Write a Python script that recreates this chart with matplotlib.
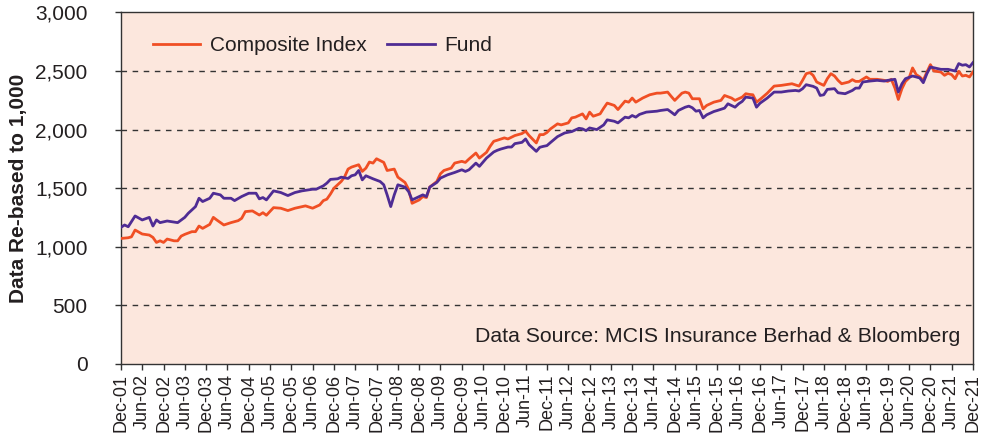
import matplotlib
matplotlib.use("Agg")
import matplotlib.pyplot as plt
import pandas as pd

# Month offsets from Dec-2001
fund_months = [0, 1, 2, 4, 6, 8, 9, 10, 11, 13, 16, 18, 19, 21, 22, 23, 25, 26, 28, 29,
               31, 32, 34, 36, 38, 39, 40, 41, 43, 45, 47, 49, 51, 54, 55, 57, 58, 59, 61, 62,
               64, 65, 66, 67, 68, 69, 71, 73, 74, 75, 76, 77, 78, 80, 81, 82, 84, 85, 86, 87,
               89, 90, 92, 94, 96, 97, 98, 100, 101, 103, 105, 106, 107, 109, 110, 111, 113, 114, 115, 117,
               118, 119, 120, 121, 123, 125, 127, 129, 130, 131, 132, 134, 136, 137, 139, 140, 142, 143, 144, 145,
               146, 148, 151, 152, 154, 155, 156, 157, 159, 160, 161, 162, 163, 164, 165, 167, 168, 170, 171, 173,
               174, 175, 176, 178, 179, 180, 182, 184, 186, 188, 190, 191, 192, 193, 195, 196, 197, 198, 199, 201,
               202, 204, 206, 207, 208, 209, 211, 213, 215, 216, 218, 219, 220, 221, 223, 224, 225, 226, 227, 228,
               230, 231, 233, 235, 236, 237, 238, 239, 240]
fund_values = [1166, 1186, 1171, 1263, 1229, 1251, 1177, 1229, 1206, 1220, 1206, 1251, 1286, 1343, 1414, 1386, 1414, 1457, 1443, 1414,
               1414, 1394, 1429, 1457, 1457, 1409, 1420, 1400, 1477, 1463, 1437, 1463, 1477, 1491, 1491, 1520, 1543, 1575, 1580, 1594,
               1583, 1606, 1614, 1651, 1571, 1606, 1580, 1557, 1529, 1443, 1343, 1443, 1529, 1509, 1471, 1400, 1429, 1443, 1429, 1509,
               1549, 1586, 1614, 1634, 1657, 1643, 1657, 1714, 1686, 1757, 1809, 1823, 1834, 1851, 1851, 1880, 1891, 1920, 1871, 1814,
               1849, 1857, 1863, 1890, 1940, 1971, 1983, 2011, 2006, 1991, 2014, 2000, 2040, 2083, 2071, 2057, 2106, 2100, 2120, 2106,
               2129, 2149, 2157, 2163, 2171, 2149, 2126, 2163, 2191, 2200, 2186, 2157, 2163, 2100, 2126, 2154, 2163, 2183, 2220, 2191,
               2220, 2240, 2277, 2269, 2191, 2225, 2269, 2320, 2320, 2329, 2334, 2329, 2349, 2383, 2369, 2354, 2291, 2297, 2343, 2349,
               2314, 2306, 2334, 2354, 2354, 2406, 2414, 2420, 2414, 2420, 2429, 2320, 2391, 2434, 2457, 2449, 2440, 2400, 2477, 2534,
               2520, 2514, 2514, 2500, 2563, 2549, 2554, 2534, 2571]

index_months = [0, 2, 3, 4, 6, 8, 9, 10, 11, 12, 13, 15, 16, 17, 18, 20, 21, 22, 23, 25,
                26, 27, 29, 31, 33, 34, 35, 37, 39, 40, 41, 43, 45, 47, 49, 52, 54, 56, 57, 58,
                59, 60, 62, 63, 64, 65, 67, 68, 69, 70, 71, 72, 74, 75, 77, 78, 80, 81, 82, 84,
                85, 86, 87, 89, 90, 91, 93, 94, 96, 97, 98, 100, 101, 103, 104, 105, 106, 108, 109, 111,
                113, 114, 115, 117, 118, 119, 120, 121, 123, 124, 126, 127, 128, 130, 131, 132, 133, 135, 136, 137,
                139, 140, 142, 143, 144, 145, 147, 149, 151, 152, 154, 155, 156, 158, 159, 160, 161, 163, 164, 165,
                167, 169, 170, 172, 173, 175, 176, 177, 178, 179, 180, 182, 184, 186, 188, 189, 191, 192, 193, 194,
                195, 196, 198, 199, 200, 201, 202, 203, 205, 206, 207, 208, 210, 211, 213, 215, 216, 217, 218, 219,
                220, 221, 222, 223, 224, 225, 226, 227, 228, 229, 231, 232, 233, 234, 235, 236, 237, 238, 239, 240]
index_values = [1071, 1077, 1085, 1143, 1109, 1100, 1080, 1037, 1051, 1037, 1066, 1051, 1051, 1091, 1106, 1129, 1129, 1177, 1157, 1191,
                1251, 1229, 1186, 1206, 1223, 1243, 1300, 1306, 1271, 1291, 1269, 1334, 1329, 1309, 1329, 1349, 1329, 1357, 1394, 1406,
                1450, 1500, 1557, 1594, 1663, 1680, 1700, 1643, 1671, 1723, 1714, 1751, 1720, 1651, 1663, 1594, 1549, 1491, 1371, 1400,
                1429, 1420, 1509, 1557, 1623, 1651, 1671, 1714, 1729, 1720, 1749, 1800, 1757, 1806, 1857, 1900, 1909, 1929, 1920, 1949,
                1966, 1986, 1949, 1886, 1957, 1957, 1975, 2006, 2049, 2040, 2057, 2100, 2106, 2134, 2091, 2149, 2114, 2134, 2183, 2226,
                2206, 2171, 2243, 2234, 2269, 2234, 2269, 2297, 2311, 2311, 2320, 2283, 2249, 2311, 2320, 2311, 2263, 2263, 2177, 2206,
                2234, 2249, 2291, 2269, 2249, 2277, 2306, 2300, 2297, 2234, 2257, 2310, 2371, 2377, 2386, 2391, 2371, 2420, 2477, 2486,
                2463, 2406, 2377, 2434, 2477, 2457, 2420, 2391, 2406, 2426, 2411, 2411, 2449, 2429, 2429, 2420, 2411, 2429, 2354, 2257,
                2349, 2411, 2440, 2526, 2469, 2449, 2420, 2491, 2554, 2500, 2491, 2463, 2480, 2469, 2434, 2497, 2457, 2463, 2449, 2491]

series_labels = ["Composite Index", "Fund"]
tick_labels = [f"{m}-{y:02d}" for y in range(1, 22) for m in ("Jun", "Dec")][1:]
y_ticks = [0, 500, 1000, 1500, 2000, 2500, 3000]
source_text = "Data Source: MCIS Insurance Berhad & Bloomberg"
y_label = "Data Re-based to 1,000"

plt.rcParams['font.family'] = ['Liberation Sans', 'DejaVu Sans']
text_color = "#231f20"

start = pd.Timestamp("2001-12-01")
def to_dates(months):
    return [start + pd.DateOffset(months=int(m)) for m in months]

fig = plt.figure(figsize=(9.9, 4.42), dpi=100)
ax = fig.add_axes([0.1222, 0.1765, 0.8606, 0.7955])
ax.set_facecolor("#fce7dd")

ax.plot(to_dates(index_months), index_values, color="#f04f24", lw=2.0, label=series_labels[0], zorder=3)
ax.plot(to_dates(fund_months), fund_values, color="#4f2c94", lw=2.0, label=series_labels[1], zorder=3)

tick_dates = [start + pd.DateOffset(months=6 * i) for i in range(len(tick_labels))]
ax.set_xticks(tick_dates)
ax.set_xticklabels(tick_labels, rotation=90, fontsize=13, color=text_color)
ax.set_xlim(tick_dates[0], tick_dates[-1])

ax.set_ylim(0, 3000)
ax.set_yticks(y_ticks)
ax.set_yticklabels([f"{v:,}" for v in y_ticks], fontsize=15, color=text_color)
for v in y_ticks[1:-1]:
    ax.axhline(v, color="#333333", lw=1.0, ls=(0, (4, 4)), zorder=1)

ax.tick_params(axis='x', direction='out', length=4, width=1, color="#333333", pad=3)
ax.tick_params(axis='y', direction='out', length=4, width=1, color="#333333", pad=20)
for s in ax.spines.values():
    s.set_color("#333333")
    s.set_linewidth(1.0)

ax.set_ylabel(y_label, fontsize=15, fontweight='bold', color=text_color, labelpad=5)

leg = ax.legend(loc="upper left", bbox_to_anchor=(0.015, 0.985), ncol=2, frameon=False,
                fontsize=15, handlelength=2.3, handletextpad=0.45, columnspacing=1.0)
for t in leg.get_texts():
    t.set_color(text_color)

ax.text(0.985, 0.05, source_text, transform=ax.transAxes, ha="right", va="bottom",
        fontsize=15.3, color=text_color)

fig.savefig("out.png", dpi=100)
